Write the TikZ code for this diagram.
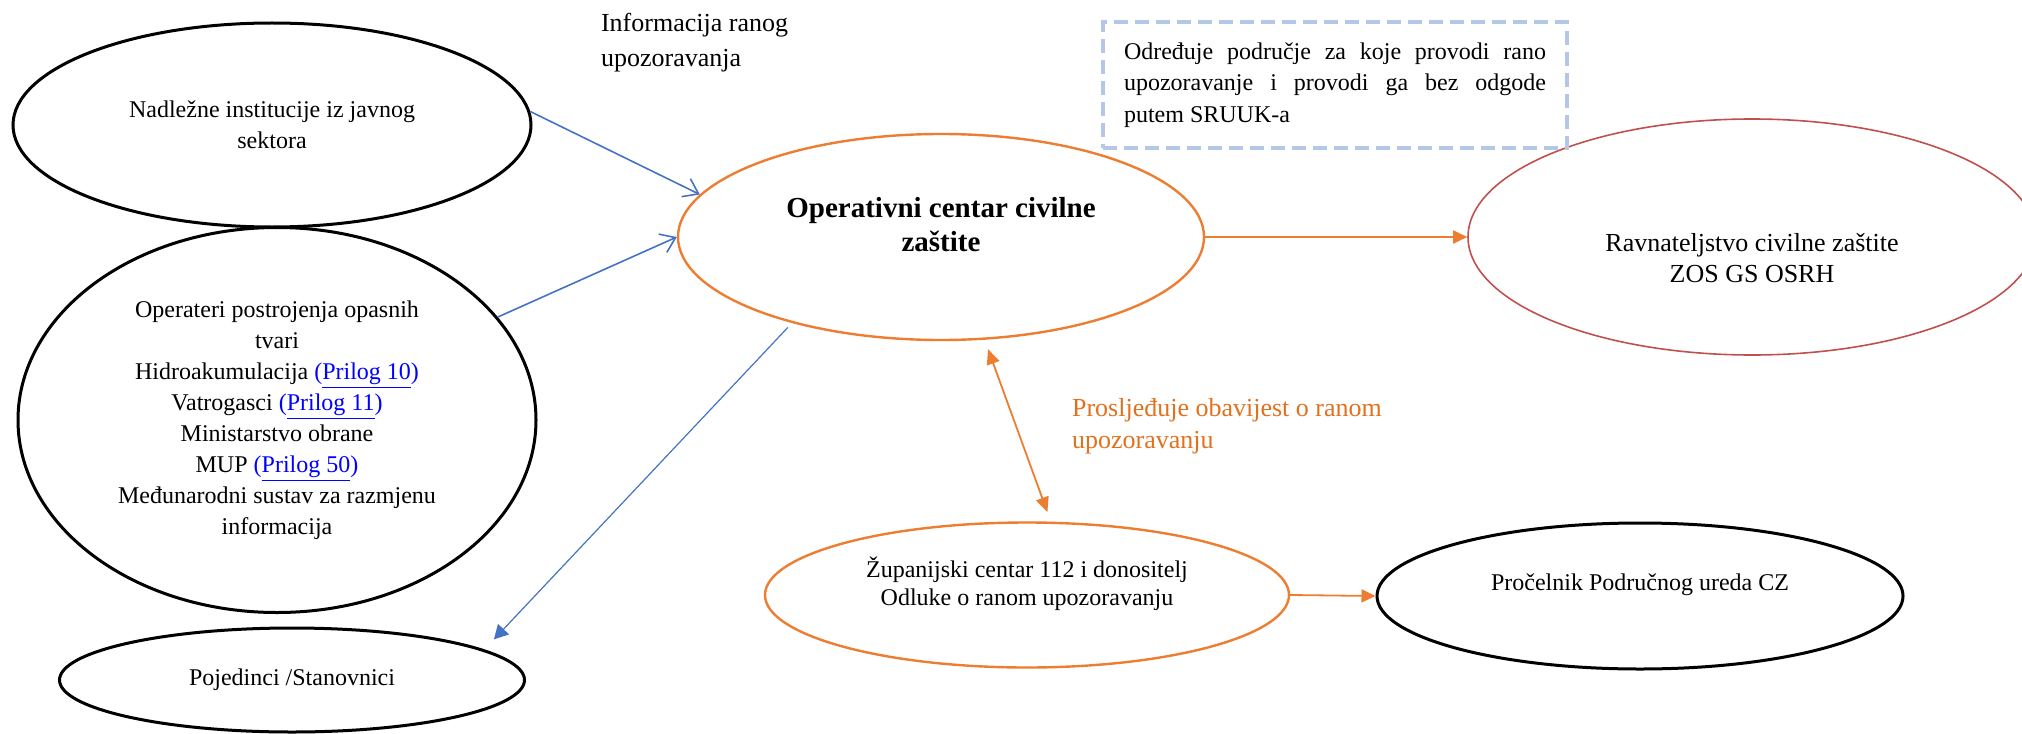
\documentclass[tikz,border=0pt]{standalone}
\usepackage{fontspec}
\setmainfont{Liberation Serif}
\usetikzlibrary{shapes.geometric}
\usetikzlibrary{arrows.meta}
\usepackage{xcolor}
\definecolor{ocorange}{HTML}{ED7D31}
\definecolor{ocdark}{HTML}{E2711D}
\definecolor{ocblue}{HTML}{4472C4}
\definecolor{ocred}{HTML}{C0504D}
\definecolor{ocdash}{HTML}{B4C7E7}
\definecolor{linkblue}{HTML}{0000FF}
\newcommand{\prilog}[1]{\textcolor{linkblue}{(\underline{Prilog #1})}}

\begin{document}
\begin{tikzpicture}[x=.5pt, y=-.5pt,
  every node/.style={font=\fontsize{12}{15.5}\selectfont, align=center},
  oval/.style={ellipse, inner sep=0pt, draw=black, line width=1.5pt},
  ovalor/.style={oval, draw=ocorange, line width=1.2pt},
  blu/.style={draw=ocblue, line width=.8pt, -{Straight Barb[length=7pt,width=10pt]}},
  orn/.style={draw=ocorange, line width=.9pt, -{Triangle[length=7pt,width=6.5pt]}}]
\useasboundingbox (0,0) rectangle (2022,733);

% sources of information
\node[oval, minimum width=259pt, minimum height=102pt] (nad) at (272,125) {Nadležne institucije iz javnog\\sektora};
\node[oval, minimum width=259pt, minimum height=192.5pt] (ope) at (277,420) {Operateri postrojenja opasnih\\tvari\\Hidroakumulacija \prilog{10}\\Vatrogasci \prilog{11}\\Ministarstvo obrane\\MUP \prilog{50}\\Međunarodni sustav za razmjenu\\informacija};
\node[oval, minimum width=232.5pt, minimum height=52pt] (poj) at (292,680) {Pojedinci /Stanovnici};

% centre and receivers (text sits off centre, as in the original)
\node[ovalor, minimum width=263pt, minimum height=103pt] (occ) at (941,237) {};
\node[font=\bfseries\fontsize{14.5}{17}\selectfont] (occt) at ([yshift=6pt]occ.center) {Operativni centar civilne\\zaštite};
\node[oval, draw=ocred, line width=.8pt, minimum width=284pt, minimum height=118pt] (rav) at (1752,237) {};
\node[font=\fontsize{13}{15.5}\selectfont] (ravt) at ([yshift=-10.5pt]rav.center) {Ravnateljstvo civilne zaštite\\ZOS GS OSRH};
\node[ovalor, minimum width=262pt, minimum height=72.5pt] (zup) at (1027,595) {};
\node[font=\fontsize{12}{14}\selectfont] (zupt) at ([yshift=5.5pt]zup.center) {Županijski centar 112 i donositelj\\Odluke o ranom upozoravanju};
\node[oval, minimum width=263pt, minimum height=73pt] (pro) at (1640,596) {};
\node (prot) at ([yshift=5.5pt]pro.center) {Pročelnik Područnog ureda CZ};

% notes
\node[anchor=west, align=left, font=\fontsize{13}{17.5}\selectfont] (info) at (594,43) {Informacija ranog\\upozoravanja};
\node[anchor=north west, draw=ocdash, line width=2pt, dash pattern=on 7pt off 3.5pt, text width=211pt, align=justify, inner xsep=10.5pt, minimum height=63pt, font=\fontsize{12}{15.75}\selectfont] (srk) at (1101,20) {Određuje područje za koje provodi rano\linebreak upozoravanje i provodi ga bez odgode\linebreak putem SRUUK-a};
\node[anchor=west, align=left, text=ocdark, font=\fontsize{13}{16}\selectfont] (pros) at (1065,426) {Prosljeđuje obavijest o ranom\\upozoravanju};

% arrows
\draw[blu] (nad.3) -- (occ.170);
\draw[blu] (ope.25) -- (occ.west);
\draw[blu, line width=.6pt, -{Triangle[length=7pt,width=7.5pt]}, shorten <=3pt, shorten >=7pt] (occ.210) -- (poj.9);
\draw[orn] (occ.east) -- (rav.west);
\draw[orn, {Triangle[length=7.5pt,width=6.5pt]}-{Triangle[length=7.5pt,width=6.5pt]}, shorten <=5pt, shorten >=5pt] (occ.-67) -- (zup.72);
\draw[orn] (zup.east) -- (pro.west);
\end{tikzpicture}
\end{document}
